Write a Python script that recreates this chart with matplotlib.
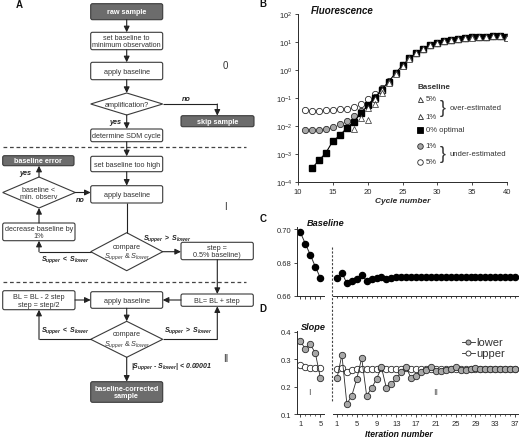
import numpy as np
import matplotlib
matplotlib.use("Agg")
import matplotlib.pyplot as plt
from matplotlib.patches import FancyBboxPatch, Polygon
from matplotlib.ticker import FixedLocator, NullFormatter, NullLocator, FormatStrFormatter

plt.rcParams['font.family'] = ['Liberation Sans', 'DejaVu Sans']
plt.rcParams['mathtext.fontset'] = 'custom'
plt.rcParams['mathtext.rm'] = 'Liberation Sans'
plt.rcParams['mathtext.it'] = 'Liberation Sans:italic:bold'
plt.rcParams['mathtext.bf'] = 'Liberation Sans:bold'
plt.rcParams['mathtext.sf'] = 'Liberation Sans:italic'

nan = np.nan
# ---------------- data: panel B ----------------
cycles = list(range(11, 41))
optimal = [nan, 3.1e-4, 5.9e-4, 1.1e-3, 2.9e-3, 4.6e-3, 8.5e-3, 1.4e-2, 2.8e-2, 5.4e-2,
           0.10, 0.20, 0.38, 0.78, 1.45, 2.6, 4.1, 5.6, 7.6, 9.3,
           10.7, 12.0, 13.3, 14.1, 14.5, 14.9, 15.3, 16.2, 16.5, 14.5]
under5 = [0.037, 0.035, 0.035, 0.036, 0.037, 0.039, 0.041, 0.046, 0.062, 0.089,
          0.136, 0.23, 0.40, 0.80, 1.47, 2.62, 4.12, 5.62, 7.62, 9.32,
          10.72, 12.02, 13.32, 14.12, 14.52, 14.92, 15.32, 16.22, 16.52, 14.52]
under1 = [0.0072, 0.0071, 0.0071, 0.0075, 0.0093, 0.0115, 0.0154, 0.022, 0.035, 0.058,
          0.105, 0.205, 0.385, 0.79, 1.46, 2.61, 4.11, 5.61, 7.61, 9.31,
          10.71, 12.01, 13.31, 14.11, 14.51, 14.91, 15.31, 16.21, 16.51, 14.51]
over1 = [nan, nan, nan, nan, nan, nan, nan, 0.0079, 0.020, 0.045,
         0.092, 0.19, 0.37, 0.77, 1.44, 2.59, 4.09, 5.59, 7.59, 9.29,
         10.69, 11.99, 13.29, 14.09, 14.49, 14.89, 15.29, 16.19, 16.49, 14.49]
over5 = [nan, nan, nan, nan, nan, nan, nan, nan, nan, 0.017,
         0.060, 0.15, 0.34, 0.73, 1.40, 2.55, 4.05, 5.55, 7.55, 9.25,
         10.65, 11.95, 13.25, 14.05, 14.45, 14.85, 15.25, 16.15, 16.45, 14.45]
b_xticks = [10, 15, 20, 25, 30, 35, 40]
b_yticks = [1e-4, 1e-3, 1e-2, 1e-1, 1e0, 1e1, 1e2]

# ---------------- data: panels C, D ----------------
iter_I = [1, 2, 3, 4, 5]
iter_II = list(range(1, 38))
base_I = [0.6984, 0.6914, 0.6846, 0.6774, 0.6706]
base_II = [0.6708, 0.6740, 0.6674, 0.6690, 0.6702, 0.6724, 0.6690, 0.6698, 0.6706, 0.6714,
           0.6702, 0.6706, 0.6710, 0.6714, 0.6714, 0.6710, 0.6712, 0.6714, 0.6714, 0.6715,
           0.6712, 0.6713, 0.6714, 0.6714, 0.6715, 0.6713, 0.6714, 0.6714, 0.6714, 0.6714,
           0.6714, 0.6714, 0.6714, 0.6714, 0.6714, 0.6714, 0.6714]
lower_I = [0.367, 0.337, 0.355, 0.321, 0.230]
upper_I = [0.280, 0.273, 0.268, 0.268, 0.267]
lower_II = [0.230, 0.316, 0.137, 0.167, 0.228, 0.304, 0.167, 0.194, 0.228, 0.270,
            0.194, 0.208, 0.230, 0.252, 0.270, 0.230, 0.240, 0.252, 0.261, 0.270,
            0.256, 0.257, 0.262, 0.264, 0.270, 0.260, 0.262, 0.265, 0.268, 0.264,
            0.265, 0.266, 0.265, 0.266, 0.265, 0.266, 0.266]
upper_II = [0.265, 0.268, 0.254, 0.262, 0.264, 0.266, 0.263, 0.264, 0.265, 0.267,
            0.265, 0.265, 0.265, 0.266, 0.267, 0.265, 0.265, 0.265, 0.265, 0.265,
            0.265, 0.265, 0.265, 0.265, 0.265, 0.265, 0.265, 0.265, 0.265, 0.265,
            0.265, 0.265, 0.265, 0.265, 0.265, 0.265, 0.265]
c_yticks = [0.66, 0.68, 0.70]
d_yticks = [0.1, 0.2, 0.3, 0.4]
d_xticks_II = [1, 5, 9, 13, 17, 21, 25, 29, 33, 37]
d_xticks_I = [1, 5]

# ---------------- figure ----------------
W, H = 520, 439
fig = plt.figure(figsize=(W / 100, H / 100), dpi=100)
INK = '#2a2a2a'
GRAYF = '#a8a8a8'
DARK = '#6c6c6c'


def frac(x0, y0, x1, y1):
    return [x0 / W, 1 - y1 / H, (x1 - x0) / W, (y1 - y0) / H]


def style_ax(ax, left=True):
    for s in ['top', 'right']:
        ax.spines[s].set_visible(False)
    ax.spines['left'].set_visible(left)
    for s in ax.spines.values():
        s.set_linewidth(0.7)
        s.set_color(INK)
    ax.tick_params(which='major', length=2.5, width=0.6, color=INK, labelsize=5.5,
                   pad=1.5, labelcolor=INK)
    ax.tick_params(which='minor', length=1.6, width=0.5, color=INK)
    ax.patch.set_alpha(0)


# ---- Panel B ----
axB = fig.add_axes(frac(298, 15, 507, 183))
axB.set_yscale('log')
axB.set_xlim(10, 40)
axB.set_ylim(1e-4, 1e2)
mk = dict(ls='none', mew=0.6, mec=INK)
axB.plot(cycles, under5, 'o', ms=4.5, mfc='white', **mk, zorder=2)
axB.plot(cycles, under1, 'o', ms=4.5, mfc=GRAYF, **mk, zorder=3)
axB.plot(cycles, optimal, '-', color='black', lw=0.8, zorder=4)
axB.plot(cycles, optimal, 's', ms=4.8, mfc='black', mec='black', ls='none', zorder=5)
axB.plot(cycles, over1, '^', ms=3.7, mfc='white', mec=INK, mew=0.5, ls='none', zorder=6)
axB.plot(cycles, over5, '^', ms=3.7, mfc='white', mec=INK, mew=0.5, ls='none', zorder=7)
axB.xaxis.set_major_locator(FixedLocator(b_xticks))
axB.yaxis.set_major_locator(FixedLocator(b_yticks))
axB.yaxis.set_minor_locator(NullLocator())
style_ax(axB)
axB.set_xlabel('Cycle number', fontsize=6, fontweight='bold', style='italic', labelpad=2, color=INK)

# ---- Panel C ----
axC1 = fig.add_axes(frac(297, 228, 323.5, 296.7))
axC2 = fig.add_axes(frac(333, 228, 518, 296.7))
for ax in (axC1, axC2):
    ax.set_ylim(0.66, 0.7015)
axC1.set_xlim(0.35, 5.6)
axC2.set_xlim(0.2, 37.6)
axC1.plot(iter_I, base_I, '-o', color=INK, lw=0.7, ms=4.4, mfc='black', mec='black')
axC2.plot(iter_II, base_II, '-o', color=INK, lw=0.7, ms=4.4, mfc='black', mec='black')
style_ax(axC1)
style_ax(axC2, left=False)
axC1.yaxis.set_major_locator(FixedLocator(c_yticks))
axC1.yaxis.set_major_formatter(FormatStrFormatter('%.2f'))
axC1.xaxis.set_major_locator(FixedLocator(iter_I))
axC1.xaxis.set_major_formatter(NullFormatter())
axC2.xaxis.set_major_locator(FixedLocator(iter_II))
axC2.xaxis.set_major_formatter(NullFormatter())
axC2.tick_params(axis='x', which='major', length=1.6)
axC2.yaxis.set_major_locator(NullLocator())

# ---- Panel D ----
axD1 = fig.add_axes(frac(297, 332, 323.5, 415))
axD2 = fig.add_axes(frac(333, 332, 518, 415))
for ax in (axD1, axD2):
    ax.set_ylim(0.1, 0.403)
axD1.set_xlim(0.35, 5.6)
axD2.set_xlim(0.2, 37.6)
axD1.plot(iter_I, upper_I, '-o', color=INK, lw=0.6, ms=4.6, mfc='white', mec=INK, mew=0.6)
axD1.plot(iter_I, lower_I, '-o', color=INK, lw=0.6, ms=4.6, mfc=GRAYF, mec=INK, mew=0.6)
axD2.plot(iter_II, upper_II, '-o', color=INK, lw=0.6, ms=4.6, mfc='white', mec=INK, mew=0.6)
axD2.plot(iter_II, lower_II, '-o', color=INK, lw=0.6, ms=4.6, mfc=GRAYF, mec=INK, mew=0.6)
style_ax(axD1)
style_ax(axD2, left=False)
axD1.yaxis.set_major_locator(FixedLocator(d_yticks))
axD1.yaxis.set_major_formatter(FormatStrFormatter('%.1f'))
axD1.xaxis.set_major_locator(FixedLocator(d_xticks_I))
axD1.xaxis.set_minor_locator(FixedLocator(iter_I))
axD2.xaxis.set_major_locator(FixedLocator(d_xticks_II))
axD2.xaxis.set_minor_locator(FixedLocator(iter_II))
axD2.yaxis.set_major_locator(NullLocator())

# ---------------- overlay (flowchart, annotations) ----------------
ov = fig.add_axes([0, 0, 1, 1], zorder=10)
ov.set_xlim(0, W)
ov.set_ylim(H, 0)
ov.axis('off')
ov.patch.set_alpha(0)

EDGE = '#3a3a3a'
TXT = '#333333'


def box(x0, y0, x1, y1, text, dark=False, fs=5.2):
    p = FancyBboxPatch((x0, y0), x1 - x0, y1 - y0,
                       boxstyle="round,pad=0,rounding_size=1.8",
                       fc=DARK if dark else 'white', ec=EDGE, lw=0.8)
    ov.add_patch(p)
    ov.text((x0 + x1) / 2, (y0 + y1) / 2 + 0.3, text, ha='center', va='center',
            fontsize=fs, color='white' if dark else TXT,
            fontweight='bold' if dark else 'normal', linespacing=1.05)


def diamond(cx, cy, hw, hh, text, fs=5.2):
    p = Polygon([(cx - hw, cy), (cx, cy - hh), (cx + hw, cy), (cx, cy + hh)],
                closed=True, fc='white', ec=EDGE, lw=0.8)
    ov.add_patch(p)
    ov.text(cx, cy + 0.3, text, ha='center', va='center', fontsize=fs, color=TXT,
            linespacing=1.1)


def line(xs, ys):
    ov.plot(xs, ys, color='#222222', lw=0.8, solid_capstyle='butt')


def arrow(x0, y0, x1, y1):
    ov.annotate('', xy=(x1, y1), xytext=(x0, y0),
                arrowprops=dict(arrowstyle='-|>,head_length=0.35,head_width=0.17',
                                color='#222222', lw=0.8, shrinkA=0, shrinkB=0))


def lab(x, y, text, fs=5.2, ha='center', **kw):
    ov.text(x, y, text, ha=ha, va='center', fontsize=fs, color='#222222',
            fontweight='bold', style='italic', **kw)


SUP_GT = r'$S_{upper}$ $\mathbf{>}$ $S_{lower}$'
SUP_LT = r'$S_{upper}$ $\mathbf{<}$ $S_{lower}$'
CMP = 'compare\n' + r'$\mathsf{S_{upper}}$ & $\mathsf{S_{lower}}$'

# panel letters
for x, y, t in [(19, 5, 'A'), (263, 4, 'B'), (263, 219, 'C'), (263, 309, 'D')]:
    ov.text(x, y, t, ha='center', va='center', fontsize=7, fontweight='bold', color='#111111')

# --- section 0 ---
box(90.7, 4.7, 162.7, 20.7, 'raw sample', dark=True)
arrow(126.7, 20.7, 126.7, 33.3)
box(90.7, 33.3, 162.7, 50.7, 'set baseline to\nminimum observation')
arrow(126.7, 50.7, 126.7, 63.3)
box(90.7, 63.3, 162.7, 80.7, 'apply baseline')
arrow(126.7, 80.7, 126.7, 94)
diamond(126.7, 105, 36, 11, 'amplification?')
line([162.7, 217.3], [105, 105])
arrow(217.3, 105, 217.3, 116.7)
lab(186, 100, 'no')
box(181, 116.7, 254, 127.7, 'skip sample', dark=True)
lab(115, 122.3, 'yes')
arrow(126.7, 116, 126.7, 130)
box(90.7, 130, 162.7, 142.7, 'determine SDM cycle')
ov.text(225.7, 66, '0', ha='center', va='center', fontsize=7, color=TXT)
ov.plot([3, 246], [147.7, 147.7], color='#444444', lw=0.9, ls=(0, (3, 2.2)))

# --- section I ---
arrow(126.7, 142.7, 126.7, 157.3)
box(90.7, 157.3, 162.7, 172.7, 'set baseline too high')
arrow(126.7, 172.7, 126.7, 186.7)
box(90.7, 186.7, 162.7, 204, 'apply baseline')
box(2.7, 156.7, 74, 166.7, 'baseline error', dark=True)
diamond(39, 193.5, 36.3, 15.5, 'baseline <\nmin. observ')
arrow(39, 178, 39, 166.7)
lab(25, 173.3, 'yes')
arrow(75.3, 193.5, 90.7, 193.5)
lab(80, 201, 'no')
ov.text(225, 207.3, 'I', ha='center', va='center', fontsize=7, color=TXT)
line([126.7, 126.7], [204, 233.5])
box(2.7, 224, 75, 241.7, 'decrease baseline by\n1%')
arrow(39, 224, 39, 209)
diamond(126.7, 252.7, 36, 19, CMP)
line([90.7, 39], [252.7, 252.7])
arrow(39, 252.7, 39, 241.7)
lab(65, 259.5, SUP_LT, fs=5)
arrow(162.7, 252.7, 181, 252.7)
lab(167, 238.5, SUP_GT, fs=5)
box(181, 243.3, 253.3, 260.7, 'step =\n0.5% baseline)')
arrow(217.3, 260.7, 217.3, 295)
ov.plot([3, 246], [282.7, 282.7], color='#444444', lw=0.9, ls=(0, (3, 2.2)))

# --- section II ---
box(181, 295, 253.3, 307.3, 'BL= BL + step')
box(90.7, 292.7, 162.7, 309.3, 'apply baseline')
box(2.7, 291.7, 75, 310.7, 'BL = BL - 2 step\nstep = step/2')
arrow(181, 301, 162.7, 301)
arrow(75, 301, 90.7, 301)
arrow(126.7, 309.3, 126.7, 322.3)
diamond(126.7, 340.3, 36, 18, CMP)
line([90.7, 39], [340.3, 340.3])
arrow(39, 340.3, 39, 310.7)
lab(65, 330.7, SUP_LT, fs=5)
line([162.7, 217.3], [340.3, 340.3])
arrow(217.3, 340.3, 217.3, 307.3)
lab(188, 330.7, SUP_GT, fs=5)
arrow(126.7, 358.3, 126.7, 382.7)
lab(131, 366.7, r'|$S_{upper}$ - $S_{lower}$| < 0.00001', fs=5, ha='left')
ov.text(225.7, 359.3, 'II', ha='center', va='center', fontsize=7, color=TXT)
box(90.7, 382.7, 162.7, 403.3, 'baseline-corrected\nsample', dark=True)

# --- panel B annotations ---
ov.text(342, 11, 'Fluorescence', ha='center', va='center', fontsize=7,
        fontweight='bold', style='italic', color='#111111')
ov.text(417, 87.3, 'Baseline', ha='left', va='center', fontsize=5.8,
        fontweight='bold', color=TXT)
leg_items = [(100.0, '^', 'white', 3.6, '5%'),
             (117.3, '^', 'white', 3.6, '1%'),
             (131.0, 's', 'black', 4.2, '0% optimal'),
             (146.7, 'o', GRAYF, 4.0, '1%'),
             (163.0, 'o', 'white', 4.0, '5%')]
for y, m, fc, ms, t in leg_items:
    ov.plot([420], [y], marker=m, ms=ms, mfc=fc, mec=INK if fc != 'black' else 'black',
            mew=0.6, ls='none')
    ov.text(425.5, y, t, ha='left', va='center', fontsize=5.6, color=TXT)
ov.text(443, 108.2, '}', ha='center', va='center', fontsize=13, color=TXT)
ov.text(450, 108.7, 'over-estimated', ha='left', va='center', fontsize=5.6, color=TXT)
ov.text(443, 154.5, '}', ha='center', va='center', fontsize=13, color=TXT)
ov.text(450, 155, 'under-estimated', ha='left', va='center', fontsize=5.6, color=TXT)

# --- panels C / D annotations ---
ov.text(326, 224, 'Baseline', ha='center', va='center', fontsize=6.6,
        fontweight='bold', style='italic', color='#111111')
ov.text(313, 327.7, 'Slope', ha='center', va='center', fontsize=6.6,
        fontweight='bold', style='italic', color='#111111')
ov.plot([331.7, 331.7], [248, 402], color='#444444', lw=0.8, ls=(0, (2, 1.5)))
ov.text(309.5, 392.7, 'I', ha='center', va='center', fontsize=6.5, color='#555555')
ov.text(436, 392.7, 'II', ha='center', va='center', fontsize=6.5, color='#555555')
ov.text(399, 435, 'Iteration number', ha='center', va='center', fontsize=6.2,
        fontweight='bold', style='italic', color='#111111')
for y, fc, t in [(342.7, GRAYF, 'lower'), (354.3, 'white', 'upper')]:
    ov.plot([461.5, 474.5], [y, y], color=INK, lw=0.6)
    ov.plot([468], [y], marker='o', ms=3.6, mfc=fc, mec=INK, mew=0.6, ls='none')
    ov.text(476, y, t, ha='left', va='center', fontsize=8, color=TXT)

fig.savefig('out.png', dpi=100)
